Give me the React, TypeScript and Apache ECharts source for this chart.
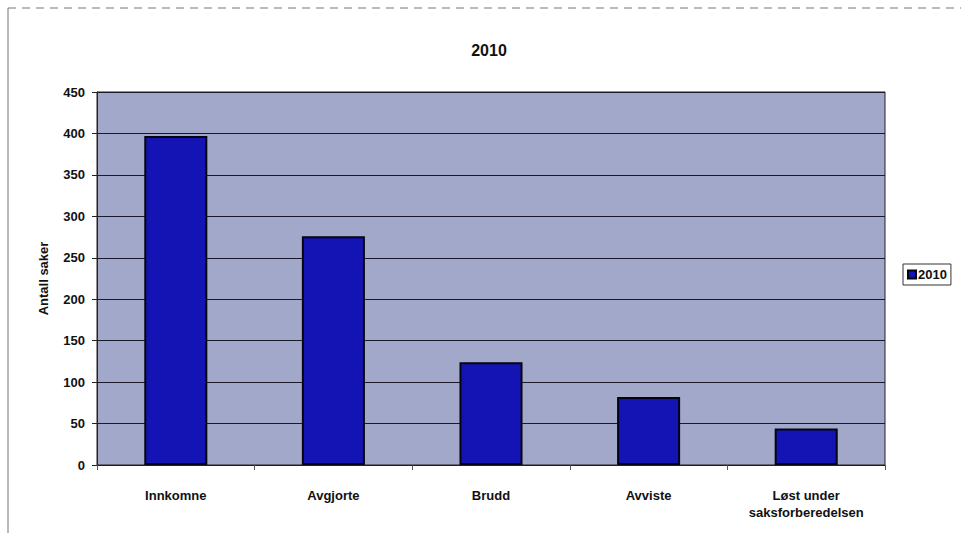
import React, { useEffect, useRef } from "react";
import * as echarts from "echarts";

const categories = ["Innkomne", "Avgjorte", "Brudd", "Avviste", "Løst under\nsaksforberedelsen"];
const values2010 = [397, 276, 124, 82, 44];
const seriesName = "2010";
const titleText = "2010";
const yAxisName = "Antall saker";

export default function App() {
  const ref = useRef<HTMLDivElement>(null);
  useEffect(() => {
    if (!ref.current) return;
    const chart = echarts.init(ref.current, null, { renderer: "svg" });
    const font = "'Liberation Sans', Arial, sans-serif";
    chart.setOption({
      animation: false,
      backgroundColor: "#ffffff",
      textStyle: { fontFamily: font },
      title: {
        text: titleText,
        left: 484,
        top: 37,
        textAlign: "center",
        textStyle: { fontSize: 16, fontWeight: "bold", color: "#111", fontFamily: font },
      },
      legend: {
        data: [seriesName],
        left: 903,
        top: 264,
        orient: "vertical",
        borderColor: "#333",
        borderWidth: 1,
        padding: [4, 4, 4, 4],
        itemWidth: 8,
        itemHeight: 8,
        itemGap: 2,
        icon: "rect",
        textStyle: { fontSize: 13, fontWeight: "bold", color: "#111", fontFamily: font, padding: [0, 0, 0, -3] },
      },
      graphic: [
        { type: "line", shape: { x1: 8, y1: 8, x2: 961, y2: 8 }, style: { stroke: "#777", lineWidth: 1, lineDash: [8, 6] } },
        { type: "line", shape: { x1: 8, y1: 8, x2: 8, y2: 533 }, style: { stroke: "#777", lineWidth: 1 } },
      ],
      grid: {
        left: 97,
        right: 76,
        top: 92,
        bottom: 68,
        show: true,
        backgroundColor: "#a2a8c9",
        borderColor: "#222",
        borderWidth: 1,
      },
      xAxis: {
        type: "category",
        data: categories,
        axisLine: { lineStyle: { color: "#222", width: 1 } },
        axisTick: { show: true, alignWithLabel: false, length: 5, lineStyle: { color: "#555" } },
        axisLabel: { color: "#111", fontSize: 13, fontWeight: "bold", margin: 22, lineHeight: 17, fontFamily: font, interval: 0 },
      },
      yAxis: {
        type: "value",
        min: 0,
        max: 450,
        interval: 50,
        name: yAxisName,
        nameLocation: "middle",
        nameGap: 47,
        nameRotate: 90,
        nameTextStyle: { fontSize: 13, fontWeight: "bold", color: "#111", fontFamily: font },
        axisLine: { show: true, lineStyle: { color: "#222" } },
        axisTick: { show: true, length: 5, inside: false, lineStyle: { color: "#222" } },
        axisLabel: { color: "#111", fontSize: 13, fontWeight: "bold", margin: 12, fontFamily: font },
        splitLine: { show: true, lineStyle: { color: "#1a1a2a", width: 1.2 } },
      },
      series: [
        {
          name: seriesName,
          type: "bar",
          data: values2010,
          barWidth: "40%",
          itemStyle: { color: "#1414b4", borderColor: "#050510", borderWidth: 2 },
        },
      ],
    });
    return () => chart.dispose();
  }, []);
  return <div ref={ref} style={{ position: "fixed", left: 0, top: 0, width: 961, height: 533 }} />;
}
